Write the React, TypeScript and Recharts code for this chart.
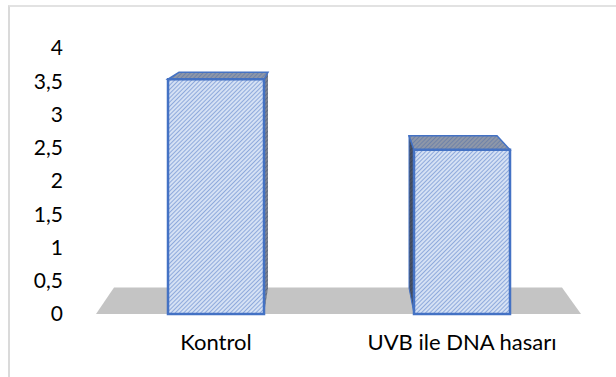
import React from "react";
import { BarChart, Bar, XAxis, YAxis, ReferenceArea } from "recharts";

const categories = ["Kontrol", "UVB ile DNA hasarı"];
const values = [3.53, 2.47];
const yTicks = [0, 0.5, 1, 1.5, 2, 2.5, 3, 3.5, 4];
const data = categories.map((name, i) => ({ name, value: values[i] }));

const BLUE = "#4472C4";
const Prism = (props: any) => {
  const { x, y, width, height, index } = props;
  const b = y + height;
  const top = 7;
  if (index === 0) {
    return (
      <g>
        <polygon points={`${x + width},${y} ${x + width + 4},${y - top} ${x + width + 4},${b - 26} ${x + width},${b}`} fill="url(#side)" />
        <polygon points={`${x},${y} ${x + 11},${y - top} ${x + width + 4},${y - top} ${x + width},${y}`} fill="url(#topFace)" stroke={BLUE} strokeWidth={1.5} />
        <rect x={x} y={y} width={width} height={height} fill="url(#front)" stroke={BLUE} strokeWidth={2.5} />
      </g>
    );
  }
  return (
    <g>
      <polygon points={`${x},${y} ${x - 5},${y - 14} ${x - 5},${b - 26} ${x},${b}`} fill="url(#side2)" stroke={BLUE} strokeWidth={1} />
      <polygon points={`${x},${y} ${x - 5},${y - 14} ${x + width - 13},${y - 14} ${x + width},${y}`} fill="url(#topFace)" stroke={BLUE} strokeWidth={1.5} />
      <rect x={x} y={y} width={width} height={height} fill="url(#front)" stroke={BLUE} strokeWidth={2.5} />
    </g>
  );
};

const Floor = (props: any) => {
  const { x, y, width, height } = props;
  const b = y + height;
  return (
    <polygon
      points={`${x + 3},${b} ${x + 21},${y} ${x + width - 23},${y} ${x + width - 4},${b}`}
      fill="#C4C4C4"
    />
  );
};

export default function App() {
  return (
    <div>
      <div style={{ position: "absolute", left: 8, top: 5, width: 606, height: 370, borderTop: "2px solid #E2E2E2", borderLeft: "2px solid #DADADA" }} />
      <div style={{ position: "absolute", left: 8, top: 0 }}>
        <BarChart
          width={600}
          height={377}
          data={data}
          margin={{ top: 48, right: 23, bottom: 33, left: 0 }}
          barSize={96}
        >
          <defs>
            <pattern id="front" width="3" height="3" patternUnits="userSpaceOnUse" patternTransform="rotate(-45)">
              <rect width="3" height="3" fill="#D5E1F4" />
              <rect width="3" height="1" fill="#8FAADC" />
            </pattern>
            <pattern id="topFace" width="3" height="3" patternUnits="userSpaceOnUse" patternTransform="rotate(-45)">
              <rect width="3" height="3" fill="#8E97A8" />
              <rect width="3" height="1" fill="#6F82A8" />
            </pattern>
            <pattern id="side" width="3" height="3" patternUnits="userSpaceOnUse" patternTransform="rotate(-45)">
              <rect width="3" height="3" fill="#7E8492" />
              <rect width="3" height="1" fill="#606A80" />
            </pattern>
            <pattern id="side2" width="3" height="3" patternUnits="userSpaceOnUse" patternTransform="rotate(-45)">
              <rect width="3" height="3" fill="#4A5264" />
              <rect width="3" height="1" fill="#3A4660" />
            </pattern>
          </defs>
          <XAxis
            dataKey="name"
            axisLine={false}
            tickLine={false}
            tickMargin={14}
            tick={{ fill: "#000", fontSize: 22, fontFamily: "Lato" }}
            interval={0}
          />
          <YAxis
            domain={[0, 4]}
            ticks={yTicks}
            axisLine={false}
            tickLine={false}
            width={85}
            tickMargin={24}
            interval={0}
            tickFormatter={(v: number) => String(v).replace(".", ",")}
            tick={{ fill: "#000", fontSize: 21, fontFamily: "Lato" }}
          />
          <ReferenceArea y1={0} y2={0.4} shape={Floor} ifOverflow="visible" />
          <Bar dataKey="value" shape={Prism} isAnimationActive={false} />
        </BarChart>
      </div>
    </div>
  );
}
